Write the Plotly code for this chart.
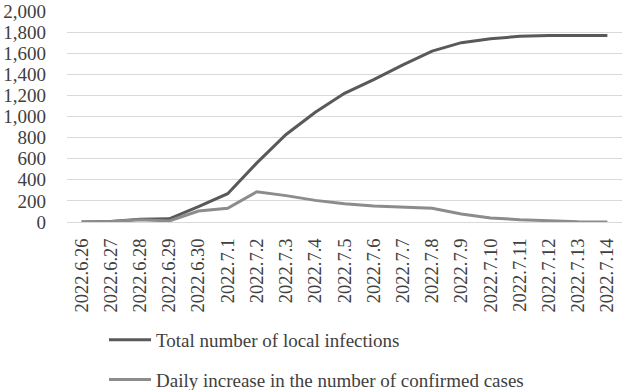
import plotly.graph_objects as go

dates = ["2022.6.26", "2022.6.27", "2022.6.28", "2022.6.29", "2022.6.30", "2022.7.1",
         "2022.7.2", "2022.7.3", "2022.7.4", "2022.7.5", "2022.7.6", "2022.7.7",
         "2022.7.8", "2022.7.9", "2022.7.10", "2022.7.11", "2022.7.12", "2022.7.13", "2022.7.14"]
total_local = [0, 5, 25, 30, 145, 268, 560, 830, 1040, 1220, 1350, 1490,
               1620, 1700, 1737, 1760, 1768, 1768, 1768]
daily_new = [0, 5, 22, 10, 104, 130, 287, 250, 205, 172, 152, 142,
             130, 75, 38, 22, 9, 3, 0]
y_ticks = list(range(0, 2001, 200))

font_family = "Liberation Serif, Times New Roman, serif"
text_color = "#404040"

fig = go.Figure()
fig.add_trace(go.Scatter(x=dates, y=total_local, mode="lines",
                         name="Total number of local infections",
                         line=dict(color="#595959", width=3),
                         legendgroup="a"))
fig.add_trace(go.Scatter(x=dates, y=daily_new, mode="lines",
                         name="Daily increase in the number of confirmed cases",
                         line=dict(color="#8c8c8c", width=3),
                         legendgroup="b"))

fig.update_layout(
    width=624, height=390,
    margin=dict(l=67, r=2, t=11, b=168, autoexpand=False),
    paper_bgcolor="white", plot_bgcolor="white",
    font=dict(family=font_family, size=19, color=text_color),
    showlegend=True,
    legend=dict(
        orientation="v",
        xref="container", yref="container",
        x=104 / 624, y=1 - 321 / 390,
        xanchor="left", yanchor="top",
        font=dict(family=font_family, size=19, color=text_color),
        tracegroupgap=12,
        itemwidth=42,
        bgcolor="rgba(0,0,0,0)",
    ),
)
fig.update_xaxes(
    type="category", range=[-0.5, len(dates) - 0.5],
    tickangle=-90, showgrid=False,
    showline=True, linecolor="#d9d9d9", linewidth=1,
    ticks="", ticklabelstandoff=8,
    tickfont=dict(family=font_family, size=18.5, color=text_color),
)
fig.update_yaxes(
    range=[0, 2000], tickvals=y_ticks, tickformat=",",
    showgrid=True, gridcolor="#d9d9d9", gridwidth=1,
    zeroline=False, showline=False, ticks="",
    ticklabelstandoff=20,
    tickfont=dict(family=font_family, size=19, color=text_color),
)

fig.write_html("out.html", config={"displayModeBar": False},
               post_script="document.body.style.margin='0';")
